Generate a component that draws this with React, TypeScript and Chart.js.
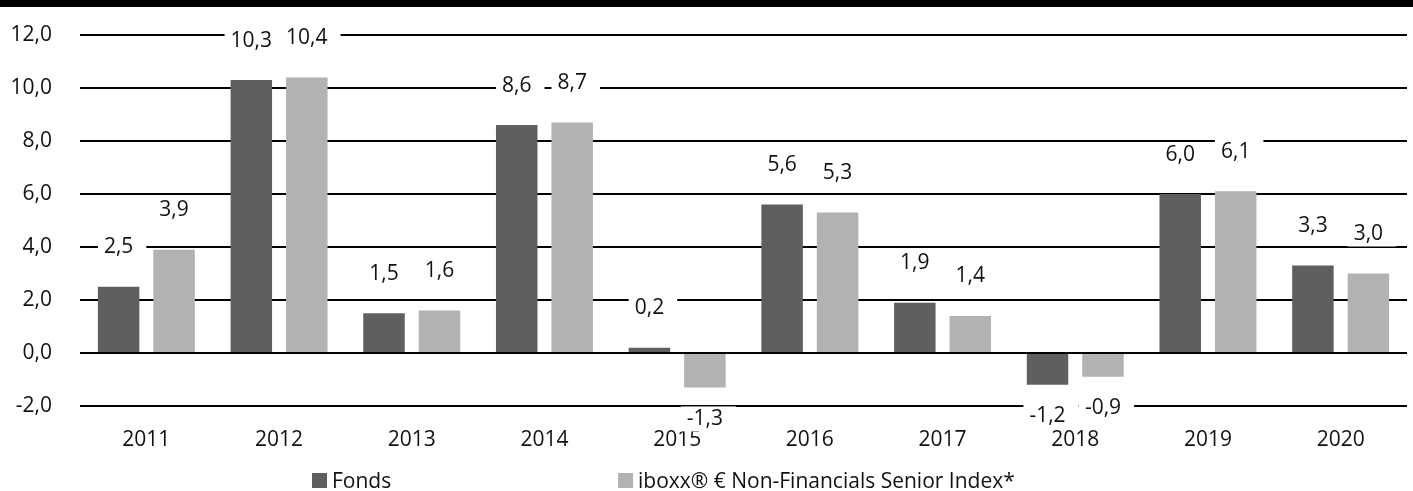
import React, { useEffect, useRef } from "react";
import { Chart, registerables } from "chart.js";

Chart.register(...registerables);

const years = ["2011", "2012", "2013", "2014", "2015", "2016", "2017", "2018", "2019", "2020"];
const fonds = [2.5, 10.3, 1.5, 8.6, 0.2, 5.6, 1.9, -1.2, 6.0, 3.3];
const index = [3.9, 10.4, 1.6, 8.7, -1.3, 5.3, 1.4, -0.9, 6.1, 3.0];
const seriesNames = ["Fonds", "iboxx® € Non-Financials Senior Index*"];
const seriesColors = ["#5f5f5d", "#b2b2b2"];
const legendX = [0.2208, 0.4374];

const FONT = "'Open Sans', 'Noto Sans', sans-serif";
const FS = 21;
const fmt = (v: number) => v.toFixed(1).replace(".", ",");

const decorPlugin = {
  id: "decor",
  beforeDraw(chart: any) {
    const { ctx, width } = chart;
    ctx.save();
    ctx.fillStyle = "#000";
    ctx.fillRect(0, 0, width, 7);
    ctx.restore();
  },
  afterDatasetsDraw(chart: any) {
    const { ctx } = chart;
    ctx.save();
    ctx.font = `${FS}px ${FONT}`;
    const items: any[] = [];
    chart.data.datasets.forEach((ds: any, di: number) => {
      const meta = chart.getDatasetMeta(di);
      meta.data.forEach((el: any, i: number) => {
        const v = ds.data[i];
        const txt = fmt(v);
        const cy = v >= 0 ? el.y - 41 : el.y + 30;
        const w = ctx.measureText(txt).width;
        items.push({ x: el.x, cy, txt, w });
      });
    });
    ctx.fillStyle = "#fff";
    items.forEach((it) => {
      ctx.fillRect(it.x - it.w / 2 - 6, it.cy - 11, it.w + 19, 25);
    });
    ctx.fillStyle = "#111";
    ctx.textAlign = "center";
    ctx.textBaseline = "alphabetic";
    items.forEach((it) => {
      ctx.fillText(it.txt, it.x, it.cy + 7.5);
    });
    ctx.restore();
  },
  afterDraw(chart: any) {
    const { ctx, width } = chart;
    ctx.save();
    ctx.font = `${FS}px ${FONT}`;
    ctx.textBaseline = "alphabetic";
    ctx.textAlign = "left";
    const cy = 480;
    seriesNames.forEach((name, i) => {
      const x = width * legendX[i];
      ctx.fillStyle = seriesColors[i];
      ctx.fillRect(x, cy - 7, 15, 15);
      ctx.fillStyle = "#111";
      ctx.fillText(name, x + 20, cy + 7.5);
    });
    ctx.restore();
  },
};

export default function App() {
  const ref = useRef<HTMLCanvasElement>(null);
  useEffect(() => {
    document.body.style.margin = "0";
    const chart = new Chart(ref.current!, {
      type: "bar",
      data: {
        labels: years,
        datasets: [
          { label: seriesNames[0], data: fonds, backgroundColor: seriesColors[0] },
          { label: seriesNames[1], data: index, backgroundColor: seriesColors[1] },
        ],
      },
      options: {
        responsive: false,
        animation: false,
        devicePixelRatio: 1,
        categoryPercentage: 0.836,
        barPercentage: 0.748,
        layout: { padding: { top: 35, right: 6, left: 0, bottom: 0 } },
        plugins: {
          legend: { display: false },
          tooltip: { enabled: false },
        },
        scales: {
          x: {
            grid: { display: false, drawTicks: false },
            border: { display: false },
            ticks: { color: "#111", font: { family: FONT, size: FS }, padding: 21 },
            afterFit: (s: any) => {
              s.height = 85;
              s.paddingLeft = 0;
              s.paddingRight = 0;
            },
          },
          y: {
            min: -2,
            max: 12,
            grid: { color: "#000", lineWidth: 2, drawTicks: false },
            border: { display: false },
            ticks: {
              stepSize: 2,
              color: "#111",
              font: { family: FONT, size: FS },
              padding: 28,
              callback: (v: any) => fmt(Number(v)),
            },
            afterFit: (s: any) => {
              s.width = 80;
              s.paddingTop = 0;
              s.paddingBottom = 0;
            },
          },
        },
      },
      plugins: [decorPlugin],
    });
    return () => chart.destroy();
  }, []);
  return (
    <div style={{ width: 1413, height: 491 }}>
      <canvas ref={ref} width={1413} height={491} />
    </div>
  );
}
